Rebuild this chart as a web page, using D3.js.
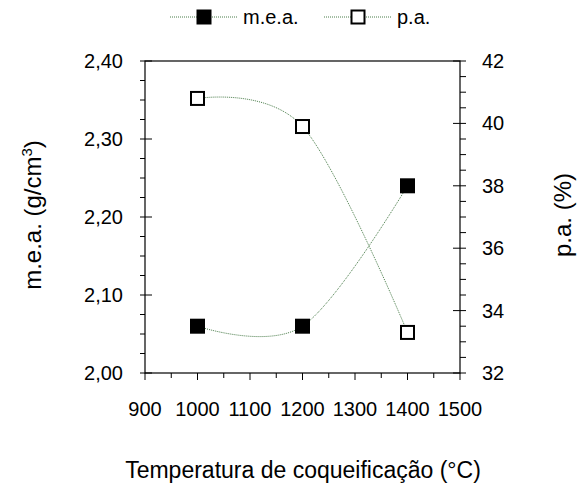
<!DOCTYPE html>
<html>
<head>
<meta charset="utf-8">
<script src="https://cdn.jsdelivr.net/npm/d3@7"></script>
<style>
  body { margin: 0; background: #fff; }
  text { font-family: "Liberation Sans", Arial, sans-serif; fill: #000; }
</style>
</head>
<body>
<svg width="582" height="493"></svg>
<script>
// dados
const temperaturas = [1000, 1200, 1400];
const mea = [2.06, 2.06, 2.24];       // g/cm3
const pa = [40.8, 39.9, 33.3];        // %
const xTicks = [900, 1000, 1100, 1200, 1300, 1400, 1500];
const yLeftTicks = [2.0, 2.1, 2.2, 2.3, 2.4];
const yRightTicks = [32, 34, 36, 38, 40, 42];

const svg = d3.select("svg");
const pLeft = 145, pRight = 460, pTop = 61, pBottom = 373;
const lineColor = "#4a7d4a";

const x = d3.scaleLinear().domain([900, 1500]).range([pLeft, pRight]);
const yL = d3.scaleLinear().domain([2.0, 2.4]).range([pBottom, pTop]);
const yR = d3.scaleLinear().domain([32, 42]).range([pBottom, pTop]);

const fmt = d => d3.format(".2f")(d).replace(".", ",");

// moldura
svg.append("rect")
  .attr("x", pLeft).attr("y", pTop)
  .attr("width", pRight - pLeft).attr("height", pBottom - pTop)
  .attr("fill", "none").attr("stroke", "#000").attr("stroke-width", 1.2);

// ticks eixo x
const g = svg.append("g").attr("stroke", "#000").attr("stroke-width", 1);
d3.range(900, 1501, 50).forEach(v => {
  const major = v % 100 === 0;
  g.append("line").attr("x1", x(v)).attr("x2", x(v))
    .attr("y1", pBottom).attr("y2", pBottom + (major ? 7 : 5));
});
svg.selectAll(".xl").data(xTicks).join("text")
  .attr("x", d => x(d)).attr("y", 416)
  .attr("text-anchor", "middle").attr("font-size", 20)
  .text(d => d);

// ticks eixo esquerdo
d3.range(0, 17).forEach(i => {
  const v = 2.0 + i * 0.025;
  const major = i % 4 === 0;
  g.append("line").attr("y1", yL(v)).attr("y2", yL(v))
    .attr("x1", pLeft - 5).attr("x2", major ? pLeft + 7 : pLeft);
});
svg.selectAll(".yl").data(yLeftTicks).join("text")
  .attr("x", 123).attr("y", d => yL(d) + 7)
  .attr("text-anchor", "end").attr("font-size", 20)
  .text(fmt);

// ticks eixo direito
d3.range(0, 21).forEach(i => {
  const v = 32 + i * 0.5;
  const major = i % 4 === 0;
  g.append("line").attr("y1", yR(v)).attr("y2", yR(v))
    .attr("x1", major ? pRight - 7 : pRight).attr("x2", pRight + 6);
});
svg.selectAll(".yr").data(yRightTicks).join("text")
  .attr("x", 482).attr("y", d => yR(d) + 7)
  .attr("text-anchor", "start").attr("font-size", 20)
  .text(d => d);

// titulos
svg.append("text")
  .attr("x", 303).attr("y", 478)
  .attr("text-anchor", "middle").attr("font-size", 23)
  .text("Temperatura de coqueificação (°C)");

const tl = svg.append("text")
  .attr("transform", "translate(41,215) rotate(-90)")
  .attr("text-anchor", "middle").attr("font-size", 24);
tl.append("tspan").text("m.e.a. (g/cm");
tl.append("tspan").attr("font-size", 15).attr("dy", -9).text("3");
tl.append("tspan").attr("dy", 9).text(")");

svg.append("text")
  .attr("transform", "translate(571,215) rotate(-90)")
  .attr("text-anchor", "middle").attr("font-size", 24)
  .text("p.a. (%)");

// curvas
const lineMea = d3.line().curve(d3.curveCardinal)
  .x((d, i) => x(temperaturas[i])).y(d => yL(d));
const linePa = d3.line().curve(d3.curveCardinal)
  .x((d, i) => x(temperaturas[i])).y(d => yR(d));

[[mea, lineMea], [pa, linePa]].forEach(([data, ln]) => {
  svg.append("path").datum(data)
    .attr("d", ln)
    .attr("fill", "none").attr("stroke", lineColor)
    .attr("stroke-width", 1).attr("stroke-dasharray", "1,1");
});

const s = 15;
svg.selectAll(".mea").data(mea).join("rect")
  .attr("x", (d, i) => x(temperaturas[i]) - s / 2)
  .attr("y", d => yL(d) - s / 2)
  .attr("width", s).attr("height", s).attr("fill", "#000");

svg.selectAll(".pa").data(pa).join("rect")
  .attr("x", (d, i) => x(temperaturas[i]) - s / 2 + 1)
  .attr("y", d => yR(d) - s / 2 + 1)
  .attr("width", s - 2).attr("height", s - 2)
  .attr("fill", "#fff").attr("stroke", "#000").attr("stroke-width", 2);

// legenda
const legend = [
  { label: "m.e.a.", x0: 170, filled: true },
  { label: "p.a.", x0: 324, filled: false }
];
const ly = 17;
legend.forEach(l => {
  svg.append("line").attr("x1", l.x0).attr("x2", l.x0 + 68)
    .attr("y1", ly).attr("y2", ly)
    .attr("stroke", lineColor).attr("stroke-dasharray", "1,1");
  const cx = l.x0 + 34;
  if (l.filled) {
    svg.append("rect").attr("x", cx - s / 2).attr("y", ly - s / 2)
      .attr("width", s).attr("height", s).attr("fill", "#000");
  } else {
    svg.append("rect").attr("x", cx - s / 2 + 1).attr("y", ly - s / 2 + 1)
      .attr("width", s - 2).attr("height", s - 2)
      .attr("fill", "#fff").attr("stroke", "#000").attr("stroke-width", 2);
  }
  svg.append("text").attr("x", l.x0 + 73).attr("y", ly + 7)
    .attr("font-size", 20).text(l.label);
});
</script>
</body>
</html>
